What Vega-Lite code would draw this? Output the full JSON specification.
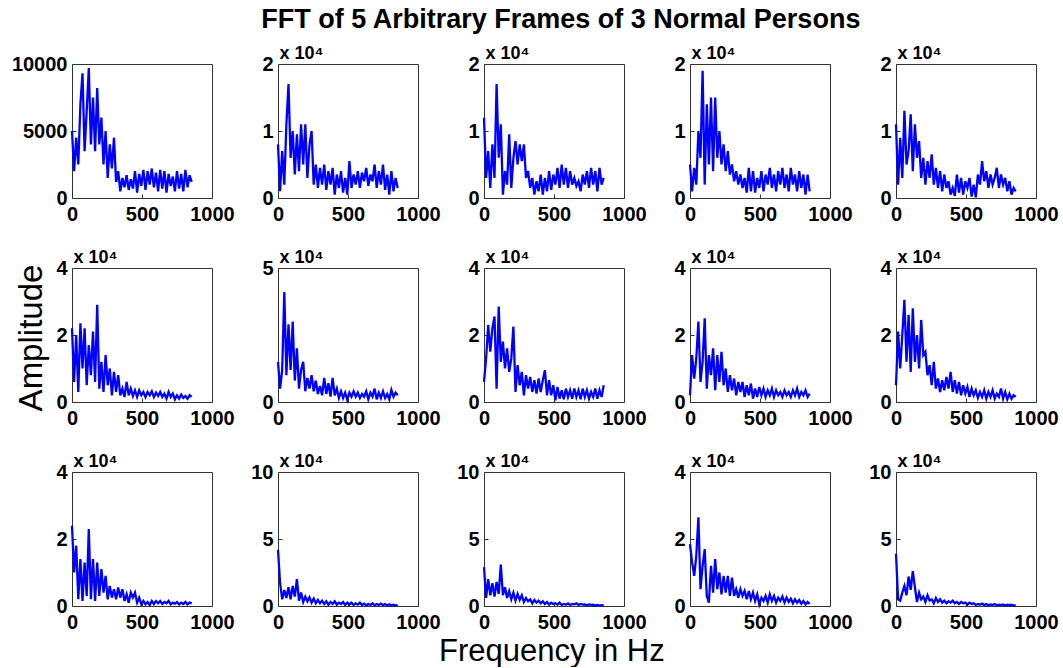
{
  "$schema": "https://vega.github.io/schema/vega-lite/v6.json",
  "padding": {"left": 10, "top": 5, "right": 4, "bottom": 0},
  "background": "white",
  "title": {"text": "FFT of 5 Arbitrary Frames of 3 Normal Persons", "fontSize": 27, "fontWeight": "bold", "font": "Liberation Sans", "color": "black", "anchor": "middle", "offset": 10, "dx": 26},
  "config": {
    "view": {"stroke": "#333333", "strokeWidth": 1},
    "axis": {"grid": false, "domain": false, "labelFont": "Liberation Sans", "labelFontSize": 20, "labelFontWeight": "bold", "labelColor": "black", "tickColor": "#333333", "tickSize": -4, "labelFlush": false, "labelOverlap": false, "titleFont": "Liberation Sans", "titleFontSize": 18, "titleFontWeight": "bold", "titleColor": "black"},
    "axisX": {"labelPadding": 10, "title": null, "format": "d"},
    "axisY": {"labelPadding": 9, "titleAngle": 0, "titleAlign": "left", "titleBaseline": "alphabetic", "titleX": 1, "titleY": -6},
    "line": {"color": "#0000ff", "strokeWidth": 2.3}
  },
  "datasets": {
    "p1": [{"f":0,"a":5000},{"f":15,"a":2000},{"f":30,"a":4500},{"f":45,"a":2500},{"f":60,"a":7000},{"f":75,"a":9300},{"f":90,"a":3500},{"f":105,"a":6500},{"f":120,"a":9700},{"f":135,"a":4000},{"f":150,"a":7500},{"f":165,"a":3500},{"f":180,"a":8200},{"f":195,"a":4000},{"f":210,"a":6000},{"f":225,"a":2500},{"f":240,"a":5000},{"f":255,"a":1500},{"f":270,"a":4000},{"f":285,"a":2200},{"f":300,"a":4500},{"f":315,"a":1200},{"f":330,"a":2000},{"f":345,"a":500},{"f":360,"a":1500},{"f":375,"a":800},{"f":390,"a":1700},{"f":405,"a":600},{"f":420,"a":1400},{"f":435,"a":700},{"f":450,"a":2000},{"f":465,"a":400},{"f":480,"a":1800},{"f":495,"a":900},{"f":510,"a":2100},{"f":525,"a":600},{"f":540,"a":2000},{"f":555,"a":1000},{"f":570,"a":2200},{"f":585,"a":800},{"f":600,"a":1900},{"f":615,"a":500},{"f":630,"a":2100},{"f":645,"a":700},{"f":660,"a":2000},{"f":675,"a":400},{"f":690,"a":1800},{"f":705,"a":900},{"f":720,"a":1600},{"f":735,"a":500},{"f":750,"a":2000},{"f":765,"a":700},{"f":780,"a":1800},{"f":795,"a":500},{"f":810,"a":2100},{"f":825,"a":800},{"f":840,"a":1700},{"f":855,"a":1200}],
    "p2": [{"f":0,"a":8000},{"f":15,"a":1000},{"f":30,"a":7000},{"f":45,"a":2000},{"f":60,"a":11000},{"f":75,"a":17000},{"f":90,"a":6000},{"f":105,"a":10000},{"f":120,"a":3500},{"f":135,"a":9500},{"f":150,"a":4000},{"f":165,"a":11000},{"f":180,"a":5000},{"f":195,"a":11000},{"f":210,"a":3000},{"f":225,"a":8000},{"f":240,"a":10000},{"f":255,"a":2000},{"f":270,"a":5000},{"f":285,"a":1500},{"f":300,"a":4500},{"f":315,"a":2000},{"f":330,"a":5000},{"f":345,"a":1200},{"f":360,"a":4000},{"f":375,"a":2000},{"f":390,"a":4500},{"f":405,"a":500},{"f":420,"a":3500},{"f":435,"a":1500},{"f":450,"a":4000},{"f":465,"a":800},{"f":480,"a":3000},{"f":495,"a":500},{"f":510,"a":5500},{"f":525,"a":1500},{"f":540,"a":3500},{"f":555,"a":2000},{"f":570,"a":4000},{"f":585,"a":1500},{"f":600,"a":3800},{"f":615,"a":2500},{"f":630,"a":4500},{"f":645,"a":1800},{"f":660,"a":3500},{"f":675,"a":2500},{"f":690,"a":5000},{"f":705,"a":1500},{"f":720,"a":4000},{"f":735,"a":2000},{"f":750,"a":5000},{"f":765,"a":1200},{"f":780,"a":3500},{"f":795,"a":500},{"f":810,"a":4000},{"f":825,"a":1000},{"f":840,"a":3000},{"f":855,"a":1500}],
    "p3": [{"f":0,"a":12000},{"f":15,"a":3000},{"f":30,"a":7000},{"f":45,"a":1500},{"f":60,"a":8000},{"f":75,"a":3000},{"f":90,"a":17000},{"f":105,"a":6000},{"f":120,"a":11000},{"f":135,"a":500},{"f":150,"a":4000},{"f":165,"a":2000},{"f":180,"a":9500},{"f":195,"a":1500},{"f":210,"a":6000},{"f":225,"a":8500},{"f":240,"a":5000},{"f":255,"a":8000},{"f":270,"a":5500},{"f":285,"a":8000},{"f":300,"a":3000},{"f":315,"a":4000},{"f":330,"a":1500},{"f":345,"a":3000},{"f":360,"a":500},{"f":375,"a":2500},{"f":390,"a":1000},{"f":405,"a":3500},{"f":420,"a":500},{"f":435,"a":3000},{"f":450,"a":1000},{"f":465,"a":4000},{"f":480,"a":1200},{"f":495,"a":3500},{"f":510,"a":2000},{"f":525,"a":4500},{"f":540,"a":1500},{"f":555,"a":5000},{"f":570,"a":2000},{"f":585,"a":4500},{"f":600,"a":1500},{"f":615,"a":4000},{"f":630,"a":2000},{"f":645,"a":3000},{"f":660,"a":1800},{"f":675,"a":2500},{"f":690,"a":1000},{"f":705,"a":3500},{"f":720,"a":2000},{"f":735,"a":4000},{"f":750,"a":1500},{"f":765,"a":4500},{"f":780,"a":2000},{"f":795,"a":4000},{"f":810,"a":1000},{"f":825,"a":4500},{"f":840,"a":2000},{"f":855,"a":3000}],
    "p4": [{"f":0,"a":5000},{"f":15,"a":1000},{"f":30,"a":4500},{"f":45,"a":2000},{"f":60,"a":10000},{"f":75,"a":6000},{"f":90,"a":19000},{"f":105,"a":2000},{"f":120,"a":14000},{"f":135,"a":5000},{"f":150,"a":15000},{"f":165,"a":4000},{"f":180,"a":15000},{"f":195,"a":6000},{"f":210,"a":10000},{"f":225,"a":5000},{"f":240,"a":8000},{"f":255,"a":4000},{"f":270,"a":7000},{"f":285,"a":3500},{"f":300,"a":5000},{"f":315,"a":2500},{"f":330,"a":4000},{"f":345,"a":2000},{"f":360,"a":3500},{"f":375,"a":1500},{"f":390,"a":3000},{"f":405,"a":800},{"f":420,"a":4500},{"f":435,"a":1000},{"f":450,"a":4000},{"f":465,"a":800},{"f":480,"a":3000},{"f":495,"a":1500},{"f":510,"a":4000},{"f":525,"a":1000},{"f":540,"a":3500},{"f":555,"a":2000},{"f":570,"a":4500},{"f":585,"a":1500},{"f":600,"a":3500},{"f":615,"a":1000},{"f":630,"a":4000},{"f":645,"a":2000},{"f":660,"a":4500},{"f":675,"a":1500},{"f":690,"a":3500},{"f":705,"a":1000},{"f":720,"a":4500},{"f":735,"a":2000},{"f":750,"a":3500},{"f":765,"a":1000},{"f":780,"a":4000},{"f":795,"a":1500},{"f":810,"a":3500},{"f":825,"a":500},{"f":840,"a":3500},{"f":855,"a":1000}],
    "p5": [{"f":0,"a":11000},{"f":15,"a":2000},{"f":30,"a":9000},{"f":45,"a":3000},{"f":60,"a":13000},{"f":75,"a":5000},{"f":90,"a":7000},{"f":105,"a":12500},{"f":120,"a":4000},{"f":135,"a":11000},{"f":150,"a":6000},{"f":165,"a":8500},{"f":180,"a":3000},{"f":195,"a":6000},{"f":210,"a":2000},{"f":225,"a":5500},{"f":240,"a":3000},{"f":255,"a":6500},{"f":270,"a":2000},{"f":285,"a":4500},{"f":300,"a":1500},{"f":315,"a":4000},{"f":330,"a":1000},{"f":345,"a":3500},{"f":360,"a":1500},{"f":375,"a":2500},{"f":390,"a":500},{"f":405,"a":1500},{"f":420,"a":300},{"f":435,"a":3500},{"f":450,"a":800},{"f":465,"a":3000},{"f":480,"a":500},{"f":495,"a":2500},{"f":510,"a":1500},{"f":525,"a":3000},{"f":540,"a":200},{"f":555,"a":2000},{"f":570,"a":100},{"f":585,"a":3500},{"f":600,"a":2000},{"f":615,"a":5500},{"f":630,"a":2500},{"f":645,"a":4000},{"f":660,"a":1500},{"f":675,"a":3500},{"f":690,"a":2000},{"f":705,"a":3000},{"f":720,"a":4500},{"f":735,"a":1500},{"f":750,"a":3500},{"f":765,"a":2000},{"f":780,"a":3000},{"f":795,"a":1000},{"f":810,"a":2500},{"f":825,"a":500},{"f":840,"a":1500},{"f":855,"a":1000}],
    "p6": [{"f":0,"a":22000},{"f":15,"a":6000},{"f":30,"a":20000},{"f":45,"a":3000},{"f":60,"a":23500},{"f":75,"a":10000},{"f":90,"a":22000},{"f":105,"a":5000},{"f":120,"a":17000},{"f":135,"a":8000},{"f":150,"a":21000},{"f":165,"a":6000},{"f":180,"a":29000},{"f":195,"a":4000},{"f":210,"a":12000},{"f":225,"a":3000},{"f":240,"a":14000},{"f":255,"a":5000},{"f":270,"a":10000},{"f":285,"a":2000},{"f":300,"a":9000},{"f":315,"a":3000},{"f":330,"a":8000},{"f":345,"a":2000},{"f":360,"a":4000},{"f":375,"a":1500},{"f":390,"a":6000},{"f":405,"a":2000},{"f":420,"a":4000},{"f":435,"a":1800},{"f":450,"a":3500},{"f":465,"a":1500},{"f":480,"a":3500},{"f":495,"a":2000},{"f":510,"a":3000},{"f":525,"a":1500},{"f":540,"a":3000},{"f":555,"a":2000},{"f":570,"a":3200},{"f":585,"a":1500},{"f":600,"a":2800},{"f":615,"a":1800},{"f":630,"a":3000},{"f":645,"a":1500},{"f":660,"a":2500},{"f":675,"a":1000},{"f":690,"a":3000},{"f":705,"a":1500},{"f":720,"a":2500},{"f":735,"a":800},{"f":750,"a":2000},{"f":765,"a":1000},{"f":780,"a":2200},{"f":795,"a":1200},{"f":810,"a":1800},{"f":825,"a":1000},{"f":840,"a":2000},{"f":855,"a":1500}],
    "p7": [{"f":0,"a":15000},{"f":15,"a":5000},{"f":30,"a":12000},{"f":45,"a":41000},{"f":60,"a":10000},{"f":75,"a":29000},{"f":90,"a":12000},{"f":105,"a":30000},{"f":120,"a":8000},{"f":135,"a":20000},{"f":150,"a":5000},{"f":165,"a":12000},{"f":180,"a":15000},{"f":195,"a":4000},{"f":210,"a":9000},{"f":225,"a":5000},{"f":240,"a":10000},{"f":255,"a":4000},{"f":270,"a":8000},{"f":285,"a":3000},{"f":300,"a":6000},{"f":315,"a":2500},{"f":330,"a":9000},{"f":345,"a":3000},{"f":360,"a":7000},{"f":375,"a":2000},{"f":390,"a":9000},{"f":405,"a":2500},{"f":420,"a":5000},{"f":435,"a":1500},{"f":450,"a":4000},{"f":465,"a":1500},{"f":480,"a":3500},{"f":495,"a":800},{"f":510,"a":3500},{"f":525,"a":2000},{"f":540,"a":4000},{"f":555,"a":2000},{"f":570,"a":3500},{"f":585,"a":1500},{"f":600,"a":3000},{"f":615,"a":2000},{"f":630,"a":4000},{"f":645,"a":1000},{"f":660,"a":3500},{"f":675,"a":2000},{"f":690,"a":5000},{"f":705,"a":1000},{"f":720,"a":3500},{"f":735,"a":1500},{"f":750,"a":4000},{"f":765,"a":1500},{"f":780,"a":3000},{"f":795,"a":1000},{"f":810,"a":4500},{"f":825,"a":2000},{"f":840,"a":3500},{"f":855,"a":2500}],
    "p8": [{"f":0,"a":6000},{"f":15,"a":13000},{"f":30,"a":23000},{"f":45,"a":15000},{"f":60,"a":22000},{"f":75,"a":25500},{"f":90,"a":4000},{"f":105,"a":28500},{"f":120,"a":12000},{"f":135,"a":18000},{"f":150,"a":10000},{"f":165,"a":16000},{"f":180,"a":9000},{"f":195,"a":13000},{"f":210,"a":22500},{"f":225,"a":3000},{"f":240,"a":11000},{"f":255,"a":5000},{"f":270,"a":9000},{"f":285,"a":2000},{"f":300,"a":8000},{"f":315,"a":4000},{"f":330,"a":7500},{"f":345,"a":3000},{"f":360,"a":6500},{"f":375,"a":2500},{"f":390,"a":7000},{"f":405,"a":3000},{"f":420,"a":6500},{"f":435,"a":9500},{"f":450,"a":2000},{"f":465,"a":6500},{"f":480,"a":2000},{"f":495,"a":5000},{"f":510,"a":500},{"f":525,"a":4500},{"f":540,"a":1000},{"f":555,"a":3500},{"f":570,"a":800},{"f":585,"a":4000},{"f":600,"a":1500},{"f":615,"a":3500},{"f":630,"a":1000},{"f":645,"a":4000},{"f":660,"a":1500},{"f":675,"a":3500},{"f":690,"a":800},{"f":705,"a":4000},{"f":720,"a":1500},{"f":735,"a":3500},{"f":750,"a":1000},{"f":765,"a":3000},{"f":780,"a":1500},{"f":795,"a":4000},{"f":810,"a":1000},{"f":825,"a":3500},{"f":840,"a":1500},{"f":855,"a":5000}],
    "p9": [{"f":0,"a":2000},{"f":15,"a":14000},{"f":30,"a":7000},{"f":45,"a":13000},{"f":60,"a":24000},{"f":75,"a":6000},{"f":90,"a":12000},{"f":105,"a":25000},{"f":120,"a":4000},{"f":135,"a":14000},{"f":150,"a":8000},{"f":165,"a":16000},{"f":180,"a":3500},{"f":195,"a":14000},{"f":210,"a":6000},{"f":225,"a":15000},{"f":240,"a":5000},{"f":255,"a":10000},{"f":270,"a":3000},{"f":285,"a":8000},{"f":300,"a":3500},{"f":315,"a":7000},{"f":330,"a":2000},{"f":345,"a":6000},{"f":360,"a":3000},{"f":375,"a":6000},{"f":390,"a":1500},{"f":405,"a":5000},{"f":420,"a":2000},{"f":435,"a":5500},{"f":450,"a":1000},{"f":465,"a":4000},{"f":480,"a":1500},{"f":495,"a":4500},{"f":510,"a":2000},{"f":525,"a":4000},{"f":540,"a":1500},{"f":555,"a":3500},{"f":570,"a":2000},{"f":585,"a":4000},{"f":600,"a":1500},{"f":615,"a":3500},{"f":630,"a":2000},{"f":645,"a":3000},{"f":660,"a":1500},{"f":675,"a":3500},{"f":690,"a":2000},{"f":705,"a":3000},{"f":720,"a":1500},{"f":735,"a":3500},{"f":750,"a":2000},{"f":765,"a":4000},{"f":780,"a":1500},{"f":795,"a":3000},{"f":810,"a":2000},{"f":825,"a":3500},{"f":840,"a":1500},{"f":855,"a":2500}],
    "p10": [{"f":0,"a":5000},{"f":15,"a":21000},{"f":30,"a":10000},{"f":45,"a":20000},{"f":60,"a":30500},{"f":75,"a":12000},{"f":90,"a":26000},{"f":105,"a":9000},{"f":120,"a":28000},{"f":135,"a":12000},{"f":150,"a":20000},{"f":165,"a":10000},{"f":180,"a":24500},{"f":195,"a":14000},{"f":210,"a":15000},{"f":225,"a":8000},{"f":240,"a":11000},{"f":255,"a":5000},{"f":270,"a":12000},{"f":285,"a":4000},{"f":300,"a":7000},{"f":315,"a":3000},{"f":330,"a":6500},{"f":345,"a":3500},{"f":360,"a":7500},{"f":375,"a":4000},{"f":390,"a":9000},{"f":405,"a":3000},{"f":420,"a":6500},{"f":435,"a":2500},{"f":450,"a":6000},{"f":465,"a":2000},{"f":480,"a":5000},{"f":495,"a":2500},{"f":510,"a":4500},{"f":525,"a":1500},{"f":540,"a":4000},{"f":555,"a":2000},{"f":570,"a":3500},{"f":585,"a":1200},{"f":600,"a":3000},{"f":615,"a":1500},{"f":630,"a":3500},{"f":645,"a":1000},{"f":660,"a":3000},{"f":675,"a":1500},{"f":690,"a":3500},{"f":705,"a":1000},{"f":720,"a":2500},{"f":735,"a":1500},{"f":750,"a":4000},{"f":765,"a":1000},{"f":780,"a":3000},{"f":795,"a":800},{"f":810,"a":2500},{"f":825,"a":1000},{"f":840,"a":2000},{"f":855,"a":1500}],
    "p11": [{"f":0,"a":24000},{"f":15,"a":10000},{"f":30,"a":18000},{"f":45,"a":2000},{"f":60,"a":14000},{"f":75,"a":1500},{"f":90,"a":13000},{"f":105,"a":3000},{"f":120,"a":23000},{"f":135,"a":2000},{"f":150,"a":14000},{"f":165,"a":1500},{"f":180,"a":13000},{"f":195,"a":3000},{"f":210,"a":11000},{"f":225,"a":4000},{"f":240,"a":9000},{"f":255,"a":2000},{"f":270,"a":6000},{"f":285,"a":2500},{"f":300,"a":5000},{"f":315,"a":2000},{"f":330,"a":5500},{"f":345,"a":2500},{"f":360,"a":5000},{"f":375,"a":1500},{"f":390,"a":3500},{"f":405,"a":1000},{"f":420,"a":4000},{"f":435,"a":2500},{"f":450,"a":4000},{"f":465,"a":1000},{"f":480,"a":2500},{"f":495,"a":500},{"f":510,"a":1500},{"f":525,"a":500},{"f":540,"a":1200},{"f":555,"a":300},{"f":570,"a":1500},{"f":585,"a":600},{"f":600,"a":1500},{"f":615,"a":800},{"f":630,"a":1500},{"f":645,"a":600},{"f":660,"a":1200},{"f":675,"a":800},{"f":690,"a":1500},{"f":705,"a":500},{"f":720,"a":1000},{"f":735,"a":700},{"f":750,"a":1200},{"f":765,"a":500},{"f":780,"a":1000},{"f":795,"a":600},{"f":810,"a":1200},{"f":825,"a":500},{"f":840,"a":1000},{"f":855,"a":800}],
    "p12": [{"f":0,"a":42000},{"f":15,"a":17000},{"f":30,"a":5000},{"f":45,"a":12000},{"f":60,"a":6000},{"f":75,"a":14000},{"f":90,"a":5000},{"f":105,"a":15000},{"f":120,"a":7000},{"f":135,"a":20000},{"f":150,"a":4000},{"f":165,"a":10000},{"f":180,"a":3000},{"f":195,"a":7000},{"f":210,"a":3500},{"f":225,"a":6500},{"f":240,"a":2500},{"f":255,"a":5500},{"f":270,"a":2000},{"f":285,"a":4500},{"f":300,"a":2000},{"f":315,"a":4000},{"f":330,"a":1500},{"f":345,"a":3500},{"f":360,"a":1000},{"f":375,"a":3000},{"f":390,"a":1500},{"f":405,"a":3500},{"f":420,"a":1000},{"f":435,"a":2500},{"f":450,"a":1500},{"f":465,"a":3000},{"f":480,"a":800},{"f":495,"a":2500},{"f":510,"a":1000},{"f":525,"a":2500},{"f":540,"a":800},{"f":555,"a":2000},{"f":570,"a":1000},{"f":585,"a":2500},{"f":600,"a":800},{"f":615,"a":1800},{"f":630,"a":500},{"f":645,"a":1500},{"f":660,"a":800},{"f":675,"a":2000},{"f":690,"a":500},{"f":705,"a":1500},{"f":720,"a":800},{"f":735,"a":1800},{"f":750,"a":600},{"f":765,"a":1500},{"f":780,"a":400},{"f":795,"a":1200},{"f":810,"a":500},{"f":825,"a":1000},{"f":840,"a":300},{"f":855,"a":800}],
    "p13": [{"f":0,"a":29000},{"f":15,"a":6000},{"f":30,"a":20000},{"f":45,"a":8000},{"f":60,"a":17000},{"f":75,"a":7000},{"f":90,"a":18000},{"f":105,"a":9000},{"f":120,"a":31000},{"f":135,"a":8000},{"f":150,"a":14000},{"f":165,"a":6000},{"f":180,"a":11000},{"f":195,"a":5000},{"f":210,"a":10000},{"f":225,"a":4000},{"f":240,"a":9000},{"f":255,"a":4500},{"f":270,"a":8000},{"f":285,"a":3000},{"f":300,"a":6000},{"f":315,"a":3500},{"f":330,"a":5000},{"f":345,"a":2000},{"f":360,"a":4500},{"f":375,"a":2500},{"f":390,"a":4000},{"f":405,"a":2000},{"f":420,"a":3500},{"f":435,"a":1500},{"f":450,"a":3000},{"f":465,"a":1000},{"f":480,"a":2500},{"f":495,"a":1500},{"f":510,"a":2000},{"f":525,"a":1000},{"f":540,"a":2500},{"f":555,"a":800},{"f":570,"a":1500},{"f":585,"a":1000},{"f":600,"a":2000},{"f":615,"a":800},{"f":630,"a":1500},{"f":645,"a":1200},{"f":660,"a":2000},{"f":675,"a":800},{"f":690,"a":1500},{"f":705,"a":1000},{"f":720,"a":1200},{"f":735,"a":500},{"f":750,"a":1200},{"f":765,"a":800},{"f":780,"a":1000},{"f":795,"a":400},{"f":810,"a":800},{"f":825,"a":300},{"f":840,"a":600},{"f":855,"a":500}],
    "p14": [{"f":0,"a":18500},{"f":15,"a":13000},{"f":30,"a":9000},{"f":45,"a":15000},{"f":60,"a":26500},{"f":75,"a":5000},{"f":90,"a":12000},{"f":105,"a":17000},{"f":120,"a":3000},{"f":135,"a":1000},{"f":150,"a":12000},{"f":165,"a":4000},{"f":180,"a":14000},{"f":195,"a":5000},{"f":210,"a":10000},{"f":225,"a":3500},{"f":240,"a":9000},{"f":255,"a":4000},{"f":270,"a":9000},{"f":285,"a":3000},{"f":300,"a":8500},{"f":315,"a":3000},{"f":330,"a":5000},{"f":345,"a":2500},{"f":360,"a":5000},{"f":375,"a":3000},{"f":390,"a":4500},{"f":405,"a":2000},{"f":420,"a":4500},{"f":435,"a":2000},{"f":450,"a":4000},{"f":465,"a":1500},{"f":480,"a":3500},{"f":495,"a":500},{"f":510,"a":2500},{"f":525,"a":1500},{"f":540,"a":3000},{"f":555,"a":1000},{"f":570,"a":3500},{"f":585,"a":1500},{"f":600,"a":3000},{"f":615,"a":1000},{"f":630,"a":2500},{"f":645,"a":1500},{"f":660,"a":2800},{"f":675,"a":1000},{"f":690,"a":2500},{"f":705,"a":1200},{"f":720,"a":2200},{"f":735,"a":800},{"f":750,"a":2000},{"f":765,"a":1000},{"f":780,"a":1800},{"f":795,"a":700},{"f":810,"a":1500},{"f":825,"a":500},{"f":840,"a":1200},{"f":855,"a":600}],
    "p15": [{"f":0,"a":39000},{"f":15,"a":5000},{"f":30,"a":4000},{"f":45,"a":10000},{"f":60,"a":15000},{"f":75,"a":8000},{"f":90,"a":22000},{"f":105,"a":12000},{"f":120,"a":26000},{"f":135,"a":14000},{"f":150,"a":3000},{"f":165,"a":10000},{"f":180,"a":5000},{"f":195,"a":7000},{"f":210,"a":3000},{"f":225,"a":8000},{"f":240,"a":4000},{"f":255,"a":5000},{"f":270,"a":2000},{"f":285,"a":6000},{"f":300,"a":3000},{"f":315,"a":5000},{"f":330,"a":2500},{"f":345,"a":4000},{"f":360,"a":2000},{"f":375,"a":3500},{"f":390,"a":2500},{"f":405,"a":4000},{"f":420,"a":2000},{"f":435,"a":3000},{"f":450,"a":1500},{"f":465,"a":3000},{"f":480,"a":2000},{"f":495,"a":2500},{"f":510,"a":1000},{"f":525,"a":2500},{"f":540,"a":1500},{"f":555,"a":2000},{"f":570,"a":800},{"f":585,"a":1500},{"f":600,"a":1000},{"f":615,"a":1800},{"f":630,"a":700},{"f":645,"a":1500},{"f":660,"a":500},{"f":675,"a":1200},{"f":690,"a":800},{"f":705,"a":1500},{"f":720,"a":500},{"f":735,"a":1000},{"f":750,"a":700},{"f":765,"a":1200},{"f":780,"a":400},{"f":795,"a":1000},{"f":810,"a":600},{"f":825,"a":900},{"f":840,"a":300},{"f":855,"a":700}]
  },
  "vconcat": [{
    "title": {"text": "Frequency in Hz", "orient": "bottom", "fontSize": 31, "fontWeight": "normal", "font": "Liberation Sans", "color": "black", "anchor": "middle", "offset": 4, "dx": 17},
    "vconcat": [{
      "title": {"text": "Amplitude", "orient": "left", "fontSize": 33, "fontWeight": "normal", "font": "Liberation Sans", "color": "black", "anchor": "middle", "offset": -38},
      "columns": 5,
      "bounds": "flush",
      "spacing": {"row": 70, "column": 66},
      "concat": [
        {"width": 140, "height": 134, "data": {"name": "p1"}, "mark": "line", "encoding": {"x": {"field": "f", "type": "quantitative", "scale": {"domain": [0, 1000], "nice": false}, "axis": {"values": [0, 500, 1000]}}, "y": {"field": "a", "type": "quantitative", "scale": {"domain": [0, 10000], "nice": false}, "axis": {"values": [0, 5000, 10000], "format": "d", "title": null}}}},
        {"width": 140, "height": 134, "data": {"name": "p2"}, "mark": "line", "encoding": {"x": {"field": "f", "type": "quantitative", "scale": {"domain": [0, 1000], "nice": false}, "axis": {"values": [0, 500, 1000]}}, "y": {"field": "a", "type": "quantitative", "scale": {"domain": [0, 20000], "nice": false}, "axis": {"values": [0, 10000, 20000], "labelExpr": "toString(datum.value/10000)", "title": "x 10⁴"}}}},
        {"width": 140, "height": 134, "data": {"name": "p3"}, "mark": "line", "encoding": {"x": {"field": "f", "type": "quantitative", "scale": {"domain": [0, 1000], "nice": false}, "axis": {"values": [0, 500, 1000]}}, "y": {"field": "a", "type": "quantitative", "scale": {"domain": [0, 20000], "nice": false}, "axis": {"values": [0, 10000, 20000], "labelExpr": "toString(datum.value/10000)", "title": "x 10⁴"}}}},
        {"width": 140, "height": 134, "data": {"name": "p4"}, "mark": "line", "encoding": {"x": {"field": "f", "type": "quantitative", "scale": {"domain": [0, 1000], "nice": false}, "axis": {"values": [0, 500, 1000]}}, "y": {"field": "a", "type": "quantitative", "scale": {"domain": [0, 20000], "nice": false}, "axis": {"values": [0, 10000, 20000], "labelExpr": "toString(datum.value/10000)", "title": "x 10⁴"}}}},
        {"width": 140, "height": 134, "data": {"name": "p5"}, "mark": "line", "encoding": {"x": {"field": "f", "type": "quantitative", "scale": {"domain": [0, 1000], "nice": false}, "axis": {"values": [0, 500, 1000]}}, "y": {"field": "a", "type": "quantitative", "scale": {"domain": [0, 20000], "nice": false}, "axis": {"values": [0, 10000, 20000], "labelExpr": "toString(datum.value/10000)", "title": "x 10⁴"}}}},
        {"width": 140, "height": 134, "data": {"name": "p6"}, "mark": "line", "encoding": {"x": {"field": "f", "type": "quantitative", "scale": {"domain": [0, 1000], "nice": false}, "axis": {"values": [0, 500, 1000]}}, "y": {"field": "a", "type": "quantitative", "scale": {"domain": [0, 40000], "nice": false}, "axis": {"values": [0, 20000, 40000], "labelExpr": "toString(datum.value/10000)", "title": "x 10⁴"}}}},
        {"width": 140, "height": 134, "data": {"name": "p7"}, "mark": "line", "encoding": {"x": {"field": "f", "type": "quantitative", "scale": {"domain": [0, 1000], "nice": false}, "axis": {"values": [0, 500, 1000]}}, "y": {"field": "a", "type": "quantitative", "scale": {"domain": [0, 50000], "nice": false}, "axis": {"values": [0, 50000], "labelExpr": "toString(datum.value/10000)", "title": "x 10⁴"}}}},
        {"width": 140, "height": 134, "data": {"name": "p8"}, "mark": "line", "encoding": {"x": {"field": "f", "type": "quantitative", "scale": {"domain": [0, 1000], "nice": false}, "axis": {"values": [0, 500, 1000]}}, "y": {"field": "a", "type": "quantitative", "scale": {"domain": [0, 40000], "nice": false}, "axis": {"values": [0, 20000, 40000], "labelExpr": "toString(datum.value/10000)", "title": "x 10⁴"}}}},
        {"width": 140, "height": 134, "data": {"name": "p9"}, "mark": "line", "encoding": {"x": {"field": "f", "type": "quantitative", "scale": {"domain": [0, 1000], "nice": false}, "axis": {"values": [0, 500, 1000]}}, "y": {"field": "a", "type": "quantitative", "scale": {"domain": [0, 40000], "nice": false}, "axis": {"values": [0, 20000, 40000], "labelExpr": "toString(datum.value/10000)", "title": "x 10⁴"}}}},
        {"width": 140, "height": 134, "data": {"name": "p10"}, "mark": "line", "encoding": {"x": {"field": "f", "type": "quantitative", "scale": {"domain": [0, 1000], "nice": false}, "axis": {"values": [0, 500, 1000]}}, "y": {"field": "a", "type": "quantitative", "scale": {"domain": [0, 40000], "nice": false}, "axis": {"values": [0, 20000, 40000], "labelExpr": "toString(datum.value/10000)", "title": "x 10⁴"}}}},
        {"width": 140, "height": 134, "data": {"name": "p11"}, "mark": "line", "encoding": {"x": {"field": "f", "type": "quantitative", "scale": {"domain": [0, 1000], "nice": false}, "axis": {"values": [0, 500, 1000]}}, "y": {"field": "a", "type": "quantitative", "scale": {"domain": [0, 40000], "nice": false}, "axis": {"values": [0, 20000, 40000], "labelExpr": "toString(datum.value/10000)", "title": "x 10⁴"}}}},
        {"width": 140, "height": 134, "data": {"name": "p12"}, "mark": "line", "encoding": {"x": {"field": "f", "type": "quantitative", "scale": {"domain": [0, 1000], "nice": false}, "axis": {"values": [0, 500, 1000]}}, "y": {"field": "a", "type": "quantitative", "scale": {"domain": [0, 100000], "nice": false}, "axis": {"values": [0, 50000, 100000], "labelExpr": "toString(datum.value/10000)", "title": "x 10⁴"}}}},
        {"width": 140, "height": 134, "data": {"name": "p13"}, "mark": "line", "encoding": {"x": {"field": "f", "type": "quantitative", "scale": {"domain": [0, 1000], "nice": false}, "axis": {"values": [0, 500, 1000]}}, "y": {"field": "a", "type": "quantitative", "scale": {"domain": [0, 100000], "nice": false}, "axis": {"values": [0, 50000, 100000], "labelExpr": "toString(datum.value/10000)", "title": "x 10⁴"}}}},
        {"width": 140, "height": 134, "data": {"name": "p14"}, "mark": "line", "encoding": {"x": {"field": "f", "type": "quantitative", "scale": {"domain": [0, 1000], "nice": false}, "axis": {"values": [0, 500, 1000]}}, "y": {"field": "a", "type": "quantitative", "scale": {"domain": [0, 40000], "nice": false}, "axis": {"values": [0, 20000, 40000], "labelExpr": "toString(datum.value/10000)", "title": "x 10⁴"}}}},
        {"width": 140, "height": 134, "data": {"name": "p15"}, "mark": "line", "encoding": {"x": {"field": "f", "type": "quantitative", "scale": {"domain": [0, 1000], "nice": false}, "axis": {"values": [0, 500, 1000]}}, "y": {"field": "a", "type": "quantitative", "scale": {"domain": [0, 100000], "nice": false}, "axis": {"values": [0, 50000, 100000], "labelExpr": "toString(datum.value/10000)", "title": "x 10⁴"}}}}
      ]
    }]
  }]
}
